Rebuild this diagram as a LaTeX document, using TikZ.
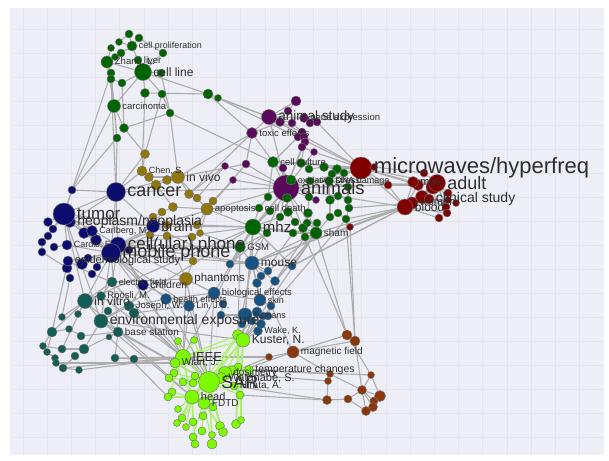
\documentclass[tikz,border=0pt]{standalone}
\usepackage{fontspec}
\setmainfont{Liberation Sans}

\definecolor{panelbg}{RGB}{238,238,247}
\definecolor{gridln}{RGB}{228,228,238}
\definecolor{linkgray}{RGB}{172,172,172}
\definecolor{linklime}{RGB}{170,240,100}
\definecolor{kGreen}{RGB}{0,100,0}
\definecolor{kOlive}{RGB}{145,118,10}
\definecolor{kNavy}{RGB}{12,12,110}
\definecolor{kTeal}{RGB}{20,92,86}
\definecolor{kSteel}{RGB}{22,82,130}
\definecolor{kLime}{RGB}{124,250,0}
\definecolor{kBrown}{RGB}{140,55,10}
\definecolor{kRed}{RGB}{128,0,0}
\definecolor{kPurple}{RGB}{90,8,90}

\pgfdeclarelayer{panel}
\pgfdeclarelayer{links}
\pgfdeclarelayer{words}
\pgfsetlayers{panel,links,main,words}

\begin{document}
\begin{tikzpicture}[x=1pt, y=-1pt,
    dot/.style={circle, draw=black!55, line width=0.45pt, inner sep=0pt, minimum size={#1pt+2pt}},
    link/.style={draw=linkgray, line width=1.1pt},
    limelink/.style={draw=linklime, line width=1.1pt},
    lbl/.style={anchor=west, inner sep=0pt, text=black!82, font=\fontsize{#1}{#1}\selectfont}
]
\useasboundingbox (0,0) rectangle (609,460);

% panel and grid
\begin{pgfonlayer}{panel}
\fill[panelbg] (10,8) rectangle (604,455);
\foreach \i in {0,...,23} \draw[gridln, line width=0.8pt] ({23+24.2*\i},8) -- ({23+24.2*\i},455);
\foreach \j in {0,...,17} \draw[gridln, line width=0.8pt] (10,{29+24*\j}) -- (604,{29+24*\j});
\end{pgfonlayer}

% top green cluster
\foreach \n/\x/\y/\d in {cellprolif/132/46/8, zhang/107/62/10, liver/138/60/6, cellline/143/72/15,
    carcinoma/114/106/11, g1/129/34/6, g2/139/38/6, g3/119/42/5, g4/111/48/5, g5/121/53/6,
    g6/115/57/5, g7/163/53/6, g8/161/73/6, g9/111/73/6, g10/111/79/6, g11/122/83/6, g12/145/93/7,
    g13/162/94/6, g14/208/94/8, g15/218/98/5, g16/170/113/6, g17/124/128/7, g18/117/138/6}
    \node[dot=\d, fill=kGreen] (\n) at (\x,\y) {};

% olive cluster
\foreach \n/\x/\y/\d in {o1/145/154/7, chen/142/171/8, o2/149/177/7, o3/156/185/8, o4/167/180/7,
    invivo/178/177/11, o5/189/194/7, o6/197/198/6, o7/213/201/6, apoptosis/207/209/10, o8/173/207/7,
    o9/162/212/6, o10/153/217/6, o11/167/225/6, o12/197/225/6, o13/150/235/6, o14/167/236/6,
    o15/192/237/6, o16/200/233/5, o17/193/261/6, phantoms/186/279/11}
    \node[dot=\d, fill=kOlive] (\n) at (\x,\y) {};

% navy cluster
\foreach \n/\x/\y/\d in {n1/72/190/6, n2/48/222/7, n3/53/229/6, n4/48/236/6, n5/42/242/6,
    n6/54/247/6, n7/42/252/6, n8/84/233/9, n9/96/240/9, n10/67/268/8, n11/82/264/9, n12/88/258/6,
    n13/97/267/6, n14/92/274/6, n15/70/278/6, n16/129/250/6, cancer/116/192/17, neoplasm/70/222/9,
    tumor/64/214/20, brain/153/226/11, carlberg/92/231/9, cardis/67/245/8, epid/68/261/8,
    children/143/285/9, cellphone/118/245/14, mobile/111/253/17}
    \node[dot=\d, fill=kNavy] (\n) at (\x,\y) {};

% teal cluster
\foreach \n/\x/\y/\d in {efield/112/282/8, invitro/85/301/13, roosli/101/296/7, joseph/129/306/8,
    envexp/101/321/12, basest/118/332/8, t1/134/313/8, t2/108/311/6, t3/62/317/5, t4/78/314/5,
    t5/52/332/8, t6/69/329/5, t7/81/336/6, t8/109/337/4, t9/43/346/5, t10/62/349/6, t11/84/349/8,
    t12/47/352/5, t13/55/358/5, t14/56/363/5, t15/75/356/6, t16/63/368/6, t17/79/370/5,
    t18/115/358/6, t19/134/359/6}
    \node[dot=\d, fill=kTeal] (\n) at (\x,\y) {};

% steel blue cluster
\foreach \n/\x/\y/\d in {mouse/252/263/12, bioeff/214/293/10, healtheff/166/299/9, lin/189/306/9,
    skin/260/300/10, rats/245/315/12, wake/258/331/7, s1/230/264/6, s2/268/271/6, s3/261/276/6,
    s4/292/266/6, s5/257/283/7, s6/275/281/7, s7/271/306/6, s8/223/304/6, s9/221/315/6,
    s10/257/312/8, s11/263/316/6, s12/268/316/6, s13/252/321/6, s14/261/324/7, s15/242/324/6}
    \node[dot=\d, fill=kSteel] (\n) at (\x,\y) {};

% purple cluster
\foreach \n/\x/\y/\d in {animalst/269/117/13, geneexp/304/118/7, toxic/252/133/9, p1/296/101/8,
    p2/288/111/6, p3/280/122/7, p4/292/123/6, p5/310/123/6, p6/317/122/6, p7/302/132/6,
    p8/298/137/6, p9/304/137/6, p10/305/142/6, p11/302/147/6, p12/314/152/5, p13/246/164/6,
    p14/283/168/6, p15/316/200/5, p16/233/180/5, p17/225/166/5, animals/286/188/24}
    \node[dot=\d, fill=kPurple] (\n) at (\x,\y) {};

% lower green cluster
\foreach \n/\x/\y/\d in {cellcult/273/162/9, m1/301/163/7, m2/309/169/6, m3/324/167/7,
    m4/337/169/7, m5/332/174/6, m6/344/173/6, m7/310/181/6, m8/348/187/6, m9/268/197/6,
    m10/287/198/7, m11/309/197/6, m12/330/200/7, m13/338/196/6, m14/348/200/6, m15/349/208/6,
    m16/270/211/6, m17/288/212/7, m18/308/213/7, m19/330/217/6, m20/338/213/6, m21/346/219/6,
    m22/280/217/6, m23/295/222/6, m24/307/223/6, m25/317/223/6, m26/303/228/7, m27/305/237/6,
    m28/267/233/6, m29/293/233/6, oxid/291/180/8, dna/329/181/7, celldeath/259/208/6,
    mhz/253/227/14, sham/316/233/10, gsm/240/247/9}
    \node[dot=\d, fill=kGreen] (\n) at (\x,\y) {};

% red cluster
\foreach \n/\x/\y/\d in {microw/361/168/20, r1/374/167/5, r2/388/185/6, r3/418/185/9,
    r4/424/173/6, r5/433/187/12, r6/422/197/11, r7/448/193/6, r8/448/200/5, r9/456/203/5,
    r10/446/207/6, r11/447/213/6, r12/439/218/6, r13/350/227/5, male/413/182/9, adult/437/183/15,
    clinical/429/199/8, women/412/203/10, blood/405/207/14}
    \node[dot=\d, fill=kRed] (\n) at (\x,\y) {};

% lime cluster
\foreach \n/\x/\y/\d in {l0/238/335/9, kuster/243/340/12, ieee/183/357/13, wiart/175/363/8,
    l1/178/341/5, l2/194/340/5, l3/174/373/6, l4/169/378/6, l5/195/376/6, l6/183/382/6,
    l7/193/383/6, l8/172/392/6, l9/168/397/6, l10/213/407/6, l11/240/395/6, l12/178/409/5,
    l13/182/418/6, l14/177/423/5, l15/186/427/5, l16/193/422/6, l17/203/416/6, l18/220/426/7,
    l19/223/432/7, l20/202/431/6, l21/193/437/6, l22/212/435/5, l23/195/444/6, l24/212/444/8,
    l25/236/424/7, l26/241/420/5, l27/238/367/6, l28/232/370/7, temp/249/370/7, hirata/234/386/6,
    dosim/225/373/11, watanabe/221/378/9, sar/209/382/19, head/192/397/12, fdtd/204/403/10}
    \node[dot=\d, fill=kLime] (\n) at (\x,\y) {};

% brown cluster
\foreach \n/\x/\y/\d in {magfield/293/352/10, b1/347/335/8, b2/355/341/8, b3/269/357/5,
    b4/330/374/5, b5/328/381/5, b6/327/400/7, b7/348/399/6, b8/362/390/7, b9/371/375/5,
    b10/380/396/9, b11/374/401/6, b12/373/407/7, b13/366/411/7}
    \node[dot=\d, fill=kBrown] (\n) at (\x,\y) {};

\begin{pgfonlayer}{links}
% grey links
\foreach \a/\b in {g1/cellprolif, g2/cellprolif, g3/cellprolif, g1/g3, g2/g7, cellprolif/g5,
    g4/zhang, g5/zhang, g6/zhang, zhang/g9, zhang/g10, zhang/carcinoma, zhang/cellline,
    cellprolif/cellline, liver/cellline, g7/cellline, g8/cellline, cellline/g12, cellline/g13,
    cellline/g14, g9/carcinoma, g10/g11, g11/cellline, g12/g14, g13/g16, g14/g15, carcinoma/g17,
    carcinoma/g18, g17/g16, g9/g18, g11/g17, cellline/carcinoma,
    carcinoma/n1, g10/cancer, g9/tumor, g18/cancer, g14/animalst, g15/microw, g15/animalst,
    g16/cellcult, g16/invivo, g13/o1, g12/chen, g17/o1, g18/n1, g14/toxic, g8/g16,
    o1/chen, chen/o2, chen/o3, o2/invivo, o3/invivo, o4/invivo, invivo/o5, o5/o6, o6/apoptosis,
    o7/apoptosis, invivo/apoptosis, o8/apoptosis, o8/o9, o9/o10, o10/o11, o11/o14, o13/o14,
    o14/o15, o15/o16, o12/apoptosis, o16/apoptosis, o15/o17, o17/phantoms, phantoms/o14, o3/o8,
    invivo/toxic, o5/toxic, apoptosis/p13, apoptosis/mhz, apoptosis/celldeath, o1/cancer,
    chen/cancer, o10/brain, o9/brain, o11/cellphone, o13/mobile, o17/mobile, phantoms/efield,
    phantoms/bioeff, phantoms/ieee, phantoms/sar, o12/mhz, o16/gsm, o7/p16, o6/p17,
    cancer/tumor, cancer/brain, cancer/mobile, cancer/cellphone, cancer/n1, tumor/neoplasm,
    tumor/n2, tumor/n3, tumor/n4, tumor/n5, tumor/mobile, tumor/cellphone, tumor/brain,
    neoplasm/mobile, neoplasm/n8, n8/mobile, n9/mobile, carlberg/mobile, carlberg/tumor,
    cardis/mobile, cardis/tumor, n5/n7, n6/cardis, n7/n10, epid/mobile, epid/n10, n11/mobile,
    n12/mobile, n13/mobile, n14/epid, n15/epid, n16/mobile, brain/mobile, brain/cellphone,
    children/mobile, children/cellphone, n1/tumor, neoplasm/brain,
    mobile/gsm, cellphone/mhz, cellphone/gsm, mobile/mouse, brain/mhz, tumor/invitro,
    mobile/invitro, mobile/envexp, cellphone/efield, mobile/lin, mobile/healtheff,
    cellphone/bioeff, mobile/sar, cellphone/ieee, brain/s1, tumor/envexp, cancer/animals,
    brain/animals, cellphone/mouse, mobile/basest, epid/t5, n15/t3, n14/efield, children/joseph,
    children/lin, cancer/invivo, neoplasm/cancer,
    invitro/roosli, invitro/efield, invitro/envexp, invitro/t3, invitro/t4, envexp/basest,
    envexp/t2, envexp/joseph, joseph/t1, efield/roosli, t5/t6, t5/invitro, t6/t7, t7/basest,
    t9/t10, t10/t11, t11/basest, t12/t13, t13/t14, t14/t16, t15/t16, t16/t17, t18/basest,
    t19/t18, t9/t5, t11/envexp, t8/basest, t10/invitro, t12/t5,
    t17/ieee, t19/ieee, t18/ieee, basest/sar, envexp/sar, envexp/head, invitro/head, joseph/sar,
    t1/sar, efield/sar, roosli/ieee, t14/wiart, t16/ieee, envexp/mhz, invitro/mhz,
    joseph/healtheff, t1/lin, envexp/kuster, t8/l9,
    mouse/s1, mouse/s2, mouse/s3, mouse/s4, mouse/s5, mouse/s6, bioeff/skin, bioeff/s8, bioeff/lin,
    bioeff/healtheff, healtheff/lin, skin/s7, skin/s10, skin/s5, s10/s11, s10/s12, s10/rats,
    rats/s13, rats/s14, rats/s15, s9/rats, s8/s9, wake/s14, s14/kuster, skin/mouse, s12/s7,
    mouse/mhz, mouse/sham, mouse/blood, s4/blood, s2/sham, skin/sham, s6/m27, bioeff/mhz,
    rats/mhz, lin/ieee, lin/sar, healtheff/sar, bioeff/sar, mouse/gsm, s1/gsm, s7/magfield,
    kuster/mhz, l0/gsm, kuster/sham, l0/mouse, kuster/s13, temp/b4, temp/b9, sar/b3, ieee/b3,
    b3/magfield, sar/magfield, dosim/b5, hirata/b6, l11/b6, wake/kuster, s13/l0,
    magfield/b1, magfield/b2, magfield/b4, b1/b2, b1/b9, b2/b8, b4/b5, b5/b6, b6/b7, b7/b8,
    b8/b9, b8/b10, b8/b11, b8/b12, b8/b13, b7/b13, b10/b11, b4/b8, b9/b10, b1/sham, b2/r13,
    b1/m27, b2/m21,
    microw/r1, microw/r2, microw/male, microw/r3, microw/adult, microw/blood, r1/r4, r2/blood,
    r3/adult, r4/adult, r5/adult, r6/adult, male/adult, clinical/adult, women/adult, blood/adult,
    blood/r5, blood/r6, blood/women, blood/clinical, r7/adult, r8/adult, r9/clinical,
    r10/clinical, r11/blood, r12/blood, r10/adult, r11/adult, r3/blood, male/blood, r12/r5,
    r2/r3, r6/women,
    microw/animals, microw/animalst, microw/cellcult, microw/m1, microw/m3, microw/m4,
    r2/animals, blood/animals, blood/sham, blood/m21, r13/blood, blood/s4, women/mouse,
    adult/animals, r3/dna, microw/dna, women/m15,
    animalst/p1, animalst/p2, animalst/p3, animalst/p4, animalst/geneexp, animalst/toxic, p1/p2,
    geneexp/p5, p5/p6, p4/p7, p7/p8, p8/p9, p9/p10, p10/p11, p11/p12, p3/p7, toxic/p3,
    p12/animals, p11/animals, p10/animals, p14/animals, p13/animals, p15/animals, p16/animals,
    p17/animals, toxic/p13, animalst/animals,
    animals/mhz, animals/cellcult, animals/oxid, animals/sham, animals/m10, animals/m17,
    animals/gsm, animals/mouse, toxic/cellcult, p8/cellcult, p6/microw, p12/microw, p13/invivo,
    p16/apoptosis, p17/o5, animals/dna, p10/m1, animals/m26, animals/m22,
    cellcult/m1, cellcult/oxid, cellcult/m9, m1/m2, m2/m3, m3/m4, m4/m5, m5/m6, oxid/m7,
    oxid/m10, m7/dna, dna/m8, dna/m12, m8/m14, m9/celldeath, m10/m17, m11/m18, m12/m13,
    m13/m14, m14/m15, m15/m21, m16/mhz, m17/m23, m18/m24, m19/m20, m20/m21, m22/mhz, m23/m26,
    m24/m25, m25/sham, m26/sham, m27/sham, m19/sham, mhz/celldeath, mhz/gsm, mhz/m28, mhz/m29,
    m28/gsm, m29/sham, mhz/sham, m11/oxid, m12/m19, mhz/m16, m6/m8, m18/sham,
    mhz/ieee, mhz/s4, sham/s4, sham/s6, m29/s5, m28/s1, gsm/s1, m21/kuster}
    \draw[link] (\a) -- (\b);
% light green links of the SAR group
\foreach \a/\b in {ieee/sar, ieee/head, ieee/wiart, ieee/l1, ieee/l2, ieee/kuster, ieee/l0,
    wiart/sar, sar/head, sar/fdtd, sar/dosim, sar/watanabe, sar/hirata, sar/l5, sar/l6, sar/l7,
    sar/l3, sar/l4, sar/l10, sar/kuster, sar/l0, head/fdtd, head/l8, head/l9, head/l12, head/l13,
    head/l14, head/l15, head/l16, fdtd/l17, fdtd/l18, fdtd/l19, fdtd/l20, sar/l21, sar/l22,
    head/l23, fdtd/l24, kuster/l25, kuster/l26, l0/l25, l0/l26, kuster/dosim, dosim/temp,
    dosim/l27, l28/sar, temp/sar, hirata/l11, l11/sar, l0/head, kuster/head, l2/sar, l1/head,
    wiart/head, l24/sar, l19/sar, l18/sar, l13/sar, l3/ieee, l4/wiart, l9/ieee}
    \draw[limelink] (\a) -- (\b);
\end{pgfonlayer}

% labels
\begin{pgfonlayer}{words}
\foreach \n/\t/\s in {cellprolif/{cell proliferation}/9, zhang/{Zhang, L.}/9.5, liver/liver/9.5,
    cellline/{cell line}/12, carcinoma/carcinoma/9.5, chen/{Chen, S.}/9, invivo/{in vivo}/12,
    apoptosis/apoptosis/9.5, phantoms/phantoms/11.5, cancer/cancer/18, tumor/tumor/17,
    neoplasm/{neoplasm/neoplasia}/14, brain/brain/14, carlberg/{Carlberg, M.}/9,
    cardis/{Cardis, E.}/9, epid/{epidemiological study}/11, children/children/10.5,
    cellphone/{cell(ular) phone}/17, mobile/{mobile phone}/18, efield/{electric field}/9,
    invitro/{in vitro}/12, roosli/{Röösli, M.}/9.5, joseph/{Joseph, W.}/9.5,
    envexp/{environmental exposure}/14, basest/{base station}/10, mouse/mouse/12,
    bioeff/{biological effects}/9.5, healtheff/{health effects}/9, lin/{Lin, J.C.}/9,
    skin/skin/9, rats/humans/9, wake/{Wake, K.}/9, kuster/{Kuster, N.}/12, ieee/IEEE/13,
    wiart/{Wiart, J.}/10, dosim/dosimetry/10, temp/{temperature changes}/10.5,
    watanabe/{Watanabe, S.}/11, hirata/{Hirata, A.}/10, sar/SAR/18, head/head/11, fdtd/FDTD/10,
    magfield/{magnetic field}/10, microw/{microwaves/hyperfreq}/22, male/male/11, adult/adult/18,
    clinical/{clinical study}/14, women/women/11, blood/blood/12, animalst/{animal study}/13.5,
    geneexp/{gene expression}/9.5, toxic/{toxic effects}/9.5, animals/animals/18.5,
    cellcult/{cell culture}/9.5, oxid/{oxidative stress}/9, dna/{DNA damage}/9, mhz/mhz/15,
    sham/sham/10, gsm/GSM/9.5, celldeath/{cell death}/9.5}
    \node[lbl=\s, xshift=1.5pt] (l-\n) at (\n.east) {\t};
\end{pgfonlayer}
\end{tikzpicture}
\end{document}
